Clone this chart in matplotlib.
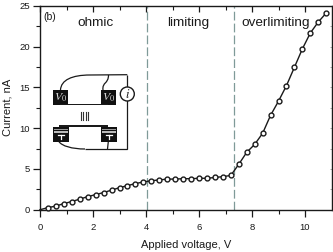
import matplotlib
matplotlib.use('Agg')
import matplotlib.pyplot as plt
from matplotlib.patches import Circle, Rectangle, PathPatch
from matplotlib.path import Path

plt.rcParams['font.family'] = ['Liberation Sans', 'DejaVu Sans']

voltage = [0.0, 0.3, 0.6, 0.9, 1.2, 1.5, 1.8, 2.1, 2.4, 2.7, 3.0, 3.3, 3.6,
           3.9, 4.2, 4.5, 4.8, 5.1, 5.4, 5.7, 6.0, 6.3, 6.6, 6.9, 7.2, 7.5,
           7.8, 8.1, 8.4, 8.7, 9.0, 9.3, 9.6, 9.9, 10.2, 10.5, 10.8]
current = [0.0, 0.25, 0.45, 0.75, 1.0, 1.3, 1.6, 1.85, 2.1, 2.4, 2.7, 2.95, 3.2,
           3.4, 3.55, 3.65, 3.75, 3.75, 3.8, 3.8, 3.85, 3.85, 3.95, 4.05, 4.2, 5.56,
           7.03, 8.0, 9.36, 11.56, 13.3, 15.2, 17.45, 19.7, 21.65, 23.0, 24.1]
boundaries = [4.05, 7.33]
regions = ['ohmic', 'limiting', 'overlimiting']
region_x = [2.1, 5.6, 8.9]
dark = '#1a1a1a'

fig = plt.figure(figsize=(3.33, 2.52), dpi=100)
ax = fig.add_axes([40 / 333, (252 - 209.7) / 252, 291.5 / 333, 204 / 252])

ax.plot(voltage, current, color=dark, lw=1.0, marker='o', ms=3.5, mfc='white',
        mec=dark, mew=1.0, markevery=range(1, len(voltage)), zorder=3, clip_on=False)
for b in boundaries:
    ax.axvline(b, color='#7f9a98', lw=0.9, ls=(0, (7, 2.5)), zorder=1)
for name, x in zip(regions, region_x):
    ax.text(x, 22.5, name, ha='center', va='baseline', fontsize=9.7, color=dark)
ax.text(0.13, 23.2, '(b)', fontsize=7.5, color=dark)

ax.set_xlim(0, 11)
ax.set_ylim(0, 25)
ax.set_xticks([0, 2, 4, 6, 8, 10])
ax.set_xticks(range(1, 11, 2), minor=True)
ax.set_yticks([0, 5, 10, 15, 20, 25])
ax.set_yticks([2.5, 7.5, 12.5, 17.5, 22.5], minor=True)
ax.tick_params(which='major', direction='out', length=5, width=0.9, labelsize=6.8,
               colors=dark, top=False, right=False)
ax.tick_params(which='minor', direction='out', length=3, width=0.8, colors=dark)
ax.tick_params(axis='x', which='major', pad=4.5)
ax.tick_params(axis='y', which='major', pad=2)
for s in ax.spines.values():
    s.set_linewidth(1.0)
    s.set_color(dark)
ax.set_xlabel('Applied voltage, V', fontsize=8, color=dark, labelpad=6)
ax.set_ylabel('Current, nA', fontsize=8, color=dark, labelpad=5)

# top ticks point inward
top = ax.secondary_xaxis('top')
top.set_xticks([0, 2, 4, 6, 8, 10])
top.set_xticks(range(1, 11, 2), minor=True)
top.tick_params(which='major', direction='in', length=4, width=0.9, labeltop=False, colors=dark)
top.tick_params(which='minor', direction='in', length=3, width=0.8, colors=dark)
top.spines['top'].set_visible(False)

# right ticks are short and faint
right = ax.secondary_yaxis('right')
right.set_yticks([0, 5, 10, 15, 20, 25])
right.set_yticks([2.5, 7.5, 12.5, 17.5, 22.5], minor=True)
right.tick_params(which='both', direction='in', length=1.5, width=0.5, labelright=False, colors='#888888')
right.spines['right'].set_visible(False)

# schematic, in pixel coordinates
sk = fig.add_axes([0, 0, 1, 1], facecolor='none')
sk.set_xlim(0, 333)
sk.set_ylim(252, 0)
sk.axis('off')


def wire(points, codes=None):
    sk.add_patch(PathPatch(Path(points, codes), fc='none', ec=dark, lw=0.9))


curve = [Path.MOVETO, Path.CURVE4, Path.CURVE4, Path.CURVE4, Path.LINETO]
wire([(60.5, 90), (61, 80), (72, 75), (90, 75), (127.3, 74.7)], curve)
wire([(108.5, 75), (108.5, 84), (102, 82), (103, 90)], curve[:4])
wire([(127.3, 74.7), (127.3, 149), (85, 149)])
wire([(59, 141.7), (62, 146), (72, 149), (85, 149)], curve[:4])
wire([(108.3, 141.7), (107.5, 149)])

for x0 in [53, 101]:
    sk.add_patch(Rectangle((x0, 89.5), 15.3, 15.5, fc='#111111', ec='none'))
    sk.text(x0 + 7.8, 97.5, '$V_0$', color='#dddddd', ha='center', va='center',
            fontsize=8.5, math_fontfamily='stix')
    sk.add_patch(Rectangle((x0, 127), 15.5, 14.8, fc='#111111', ec='none'))
    sk.add_patch(Rectangle((x0 + 1, 128.5), 13.5, 1.2, fc='#999999', ec='none'))
    sk.add_patch(Rectangle((x0 + 1, 131), 13.5, 1.6, fc='#bbbbbb', ec='none'))
    sk.plot([x0 + 4.5, x0 + 11], [135, 135], color='white', lw=0.9)
    sk.plot([x0 + 7.8, x0 + 7.8], [135, 139], color='white', lw=0.9)
sk.add_patch(Rectangle((60, 103.8), 48, 1.6, fc=dark, ec='none'))
sk.add_patch(Rectangle((59, 124.6), 49, 2, fc=dark, ec='none'))

for x0 in [81, 83, 85.5, 87.5]:
    sk.plot([x0, x0], [112, 119.5], color='#333333', lw=0.8)

sk.add_patch(Circle((127.3, 94), 7, fc='white', ec=dark, lw=1.0, zorder=3))
sk.text(127.3, 94, '$i$', ha='center', va='center', fontsize=9, zorder=4,
        color=dark, math_fontfamily='stix')

fig.savefig('out.png', dpi=100)
